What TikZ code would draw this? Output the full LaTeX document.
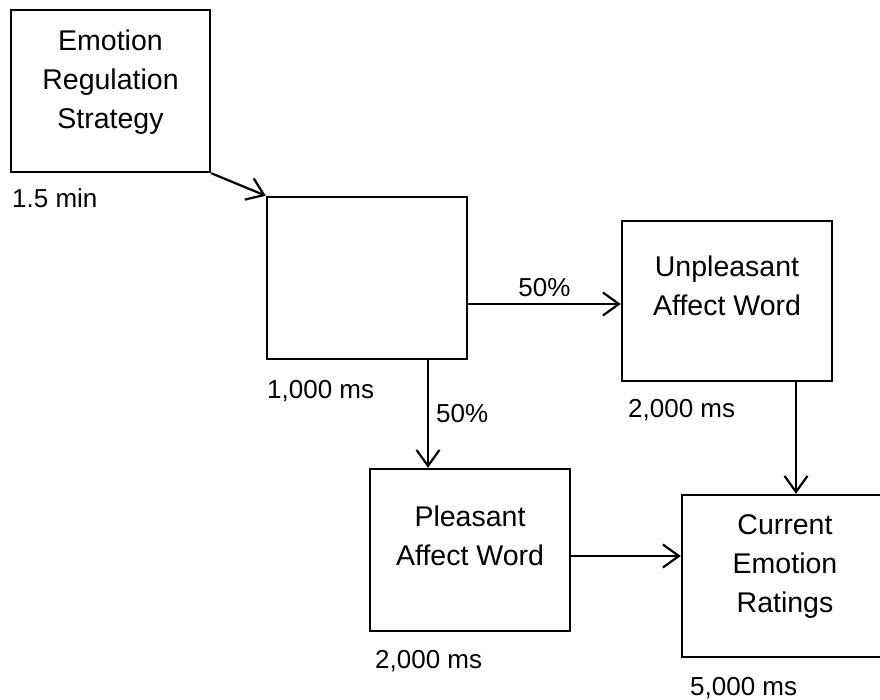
\documentclass[tikz,border=0pt]{standalone}
\usepackage{fontspec}
\setmainfont{Liberation Sans}
\usepackage{tikz}
\usetikzlibrary{arrows.meta}

\begin{document}
\begin{tikzpicture}[x=1pt, y=-1pt,
    stage/.style={draw, line width=2.4pt, inner sep=0pt, minimum height=162pt},
    words/.style={align=center, inner sep=0pt, font=\fontsize{28.5}{39}\selectfont},
    time/.style={anchor=base west, inner sep=0pt, font=\fontsize{26}{30}\selectfont},
    share/.style={inner sep=0pt, font=\fontsize{26}{30}\selectfont},
    flow/.style={line width=2.2pt, -{Straight Barb[length=16pt,width=23pt,line width=2.2pt]}}]
  \useasboundingbox (0,0) rectangle (880,700);

  % Boxes
  \node[stage, minimum width=199pt] (strategy) at (110.5,91) {};
  \node[stage, minimum width=200pt] (blank) at (367,278) {};
  \node[stage, minimum width=210pt, minimum height=160pt] (unpleasant) at (727,301) {};
  \node[stage, minimum width=200pt] (pleasant) at (470,550) {};
  \node[stage, minimum width=206pt] (ratings) at (785,576) {};

  % Box texts
  \node[words] (strategy-text) at ([yshift=9pt]strategy.center) {Emotion\\Regulation\\Strategy};
  \node[words] (unpleasant-text) at ([yshift=15pt]unpleasant.center) {Unpleasant\\Affect Word};
  \node[words] (pleasant-text) at ([yshift=14pt]pleasant.center) {Pleasant\\Affect Word};
  \node[words] (ratings-text) at ([yshift=9pt]ratings.center) {Current\\Emotion\\Ratings};

  % Durations
  \foreach \n/\x/\y/\t in {strategy/12/208/1.5 min, blank/267/398/{1,000 ms},
                           unpleasant/628/417/{2,000 ms}, pleasant/375/668/{2,000 ms},
                           ratings/690/695/{5,000 ms}}
    \node[time] (\n-time) at (\x,\y) {\t};

  % Arrows
  \draw[flow] (strategy.south east) -- (blank.north west);
  \draw[flow] ([yshift=-26pt]blank.east) -- ([yshift=-26pt]blank.east -| unpleasant.west)
    node[share, midway, above=6pt] (up-share) {50\%};
  \draw[flow] ([xshift=61pt]blank.south) -- ([xshift=61pt]blank.south |- pleasant.north)
    node[share, midway, right=7pt] (down-share) {50\%};
  \draw[flow] ([xshift=69pt]unpleasant.south) -- ([xshift=69pt]unpleasant.south |- ratings.north);
  \draw[flow] ([yshift=-6pt]pleasant.east) -- ([yshift=-6pt]pleasant.east -| ratings.west);
\end{tikzpicture}
\end{document}
